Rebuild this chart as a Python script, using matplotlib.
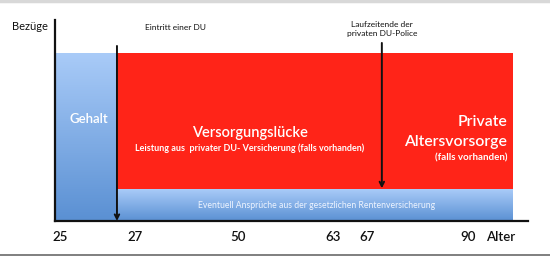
import numpy as np
import matplotlib
matplotlib.use("Agg")
import matplotlib.pyplot as plt
from matplotlib.colors import LinearSegmentedColormap
from matplotlib.lines import Line2D

plt.rcParams['font.family'] = ['Lato', 'DejaVu Sans']

# ---- data (schematic units) ----
tick_labels = ['25', '27', '50', '63', '67', '90', 'Alter']
tick_pos = [1.1, 16.9, 38.7, 58.8, 66.0, 87.3, 94.1]

start = 0.0            # start of working life (age 25)
du_onset = 13.1        # Eintritt einer DU (age 27)
policy_end = 69.1      # Laufzeitende der privaten DU-Police (age 67)
end = 96.8             # end of shown horizon (age 90)
salary_level = 100.0   # Gehalt
statutory_level = 19.1 # gesetzliche Rente
x_max, y_max = 100.0, 120.0

RED = '#ff2418'
blue_cmap = LinearSegmentedColormap.from_list('b', ['#5a90d3', '#a9cbf8'])

fig = plt.figure(figsize=(5.5, 2.57), dpi=100)
ax = fig.add_axes([55/550, 36/257, 473/550, 201/257])
ax.set_xlim(0, x_max)
ax.set_ylim(0, y_max)
for s in ['top', 'right']:
    ax.spines[s].set_visible(False)
for s in ['left', 'bottom']:
    ax.spines[s].set_linewidth(1.6)
    ax.spines[s].set_color('#111111')
    ax.spines[s].set_zorder(5)
ax.set_yticks([])
ax.set_xticks(tick_pos, tick_labels)
ax.tick_params(axis='x', length=0, pad=7, labelsize=9.5, labelcolor='#111111')
for lab in ax.get_xticklabels():
    lab.set_fontweight('semibold')

grad = np.linspace(0, 1, 256).reshape(-1, 1)

# Gehalt (gradient blue)
ax.imshow(grad, cmap=blue_cmap, extent=[start, du_onset, 0, salary_level],
          origin='lower', aspect='auto', zorder=1)
# Versorgungslücke + private Altersvorsorge (red)
ax.bar((du_onset + end) / 2, salary_level - statutory_level, width=end - du_onset,
       bottom=statutory_level, color=RED, edgecolor='none', zorder=1)
# gesetzliche Rente (gradient blue strip)
ax.imshow(grad, cmap=blue_cmap, extent=[du_onset, end, 0, statutory_level],
          origin='lower', aspect='auto', zorder=1)

# arrows
ax.annotate('', xy=(du_onset, 0), xytext=(du_onset, 104.5),
            arrowprops=dict(arrowstyle='->', color='#111111', lw=1.4,
                            shrinkA=0, shrinkB=0, mutation_scale=8), zorder=6)
ax.annotate('', xy=(policy_end, statutory_level + 0.4), xytext=(policy_end, 106.3),
            arrowprops=dict(arrowstyle='->', color='#111111', lw=1.4,
                            shrinkA=0, shrinkB=0, mutation_scale=8), zorder=6)

# texts
ax.text(-1.6, 116.4, 'Bezüge', ha='right', va='center', fontsize=8, color='#111111', clip_on=False)
ax.text(25.4, 115.8, 'Eintritt einer DU', ha='center', va='center', fontsize=6, color='#111111')
ax.text(policy_end, 114.7, 'Laufzeitende der\nprivaten DU-Police', ha='center', va='center',
        fontsize=6, color='#111111', linespacing=1.45)
ax.text(7.1, 60.9, 'Gehalt', ha='center', va='center', fontsize=9.5, color='white',
        fontweight='semibold', zorder=4)
ax.text(41.2, 52.5, 'Versorgungslücke', ha='center', va='center', fontsize=10.5,
        color='white', fontweight='semibold', zorder=4)
ax.text(41.2, 43.6, 'Leistung aus  privater DU- Versicherung (falls vorhanden)', ha='center',
        va='center', fontsize=6.5, color='white', fontweight='bold', zorder=4)
ax.text(95.6, 59.1, 'Private', ha='right', va='center', fontsize=11.3, color='white',
        fontweight='semibold', zorder=4)
ax.text(95.6, 47.2, 'Altersvorsorge', ha='right', va='center', fontsize=11.3, color='white',
        fontweight='semibold', zorder=4)
ax.text(95.6, 37.6, '(falls vorhanden)', ha='right', va='center', fontsize=7, color='white',
        fontweight='bold', zorder=4)
ax.text(55.2, 9.0, 'Eventuell Ansprüche aus der gesetzlichen Rentenversicherung', ha='center',
        va='center', fontsize=6.2, color='#eef4ff', zorder=4)

# frame decorations
fig.add_artist(Line2D([0, 1], [1 - 1/257, 1 - 1/257], transform=fig.transFigure,
                      color='#d8d8d8', lw=2.5))
fig.add_artist(Line2D([0, 1], [2/257, 2/257], transform=fig.transFigure,
                      color='#6a6a6a', lw=1.2))

fig.savefig('out.png', dpi=100)
